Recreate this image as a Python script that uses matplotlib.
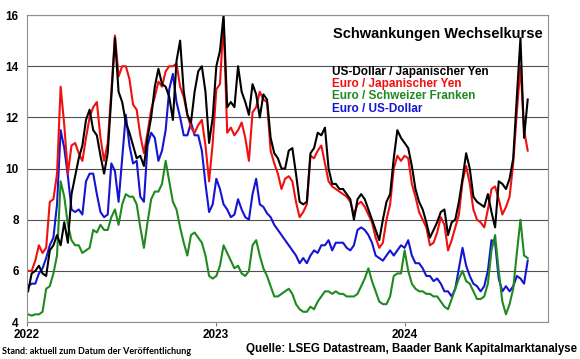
import numpy as np
import pandas as pd
import matplotlib
matplotlib.use("Agg")
import matplotlib.pyplot as plt
import matplotlib.dates as mdates

plt.rcParams['font.family'] = ['Liberation Sans', 'DejaVu Sans']

# weekly readings, Jan 2022 - Aug 2024
dates = pd.date_range("2022-01-03", periods=139, freq="7D")

usd_jpy = [5.2, 5.9, 6.0, 6.2, 5.9, 5.8, 6.8, 7.0, 7.4, 7.0,
           7.9, 7.1, 9.0, 9.7, 10.4, 10.9, 11.9, 12.3, 11.5, 11.3,
           10.5, 9.8, 10.6, 12.8, 15.1, 13.0, 12.6, 11.8, 11.4, 10.9,
           10.4, 10.5, 10.1, 11.2, 12.0, 13.2, 13.9, 13.3, 13.2, 12.8,
           11.9, 14.2, 15.0, 13.0, 12.1, 11.8, 13.0, 13.8, 14.0, 13.0,
           11.0, 12.0, 14.0, 14.6, 16.0, 12.4, 12.6, 12.4, 14.0, 13.0,
           12.6, 12.1, 13.3, 12.9, 12.0, 12.9, 12.7, 11.2, 10.6, 10.4,
           10.0, 10.0, 10.7, 10.8, 9.8, 8.7, 8.6, 8.7, 10.6, 10.8,
           11.4, 11.3, 11.6, 10.0, 9.4, 9.4, 9.2, 9.2, 9.0, 8.8,
           8.0, 8.8, 9.0, 8.8, 8.4, 8.0, 7.6, 7.2, 8.0, 8.7,
           9.0, 10.4, 11.5, 11.2, 11.0, 10.8, 10.1, 9.2, 8.7, 8.4,
           7.9, 7.3, 7.6, 7.9, 8.3, 8.4, 7.4, 7.9, 8.0, 8.7,
           9.6, 10.6, 10.0, 8.9, 8.7, 8.6, 8.5, 9.0, 8.3, 7.7,
           9.5, 9.4, 9.2, 9.6, 10.4, 12.8, 15.1, 11.2, 12.7]

eur_jpy = [6.0, 6.0, 6.4, 7.0, 6.7, 6.9, 8.7, 8.8, 9.8, 13.2,
           11.7, 9.8, 10.9, 11.0, 10.6, 10.3, 11.2, 12.0, 12.4, 12.6,
           11.2, 10.3, 11.0, 13.0, 15.2, 13.6, 14.0, 14.0, 13.5, 12.5,
           12.3, 11.3, 10.6, 11.4, 12.3, 12.8, 13.4, 13.2, 13.8, 14.0,
           14.0, 14.1, 13.2, 12.8, 12.1, 11.6, 11.4, 11.7, 11.9, 10.9,
           9.5, 11.0, 13.1, 13.3, 15.8, 11.4, 11.6, 11.3, 11.5, 11.8,
           11.2, 10.3, 12.2, 12.4, 13.0, 12.7, 12.6, 10.7, 10.2, 9.8,
           9.2, 9.6, 9.7, 9.5, 8.7, 8.1, 8.3, 8.6, 10.5, 10.4,
           10.7, 10.9, 10.2, 9.5, 9.3, 9.2, 9.1, 9.0, 8.9, 8.7,
           8.2, 8.6, 8.7, 8.5, 8.2, 7.9, 7.3, 6.9, 7.1, 8.0,
           8.6, 10.0, 10.5, 10.3, 10.5, 10.4, 9.4, 8.9, 8.3, 8.0,
           7.7, 7.0, 7.1, 7.5, 8.1, 7.8, 6.8, 7.2, 7.7, 8.2,
           9.5, 10.1, 9.4, 8.4, 8.0, 7.9, 7.7, 8.4, 9.2, 9.3,
           8.8, 8.2, 8.5, 8.9, 10.2, 12.2, 14.0, 11.5, 10.7]

eur_chf = [4.3, 4.25, 4.3, 4.3, 4.4, 5.3, 5.4, 5.9, 6.6, 9.5,
           8.9, 7.8, 7.2, 7.0, 7.0, 6.7, 6.8, 6.9, 7.6, 7.5,
           7.8, 7.6, 7.6, 8.1, 8.4, 7.8, 8.6, 9.0, 8.9, 8.9,
           8.6, 7.7, 6.9, 7.9, 8.8, 9.1, 9.1, 9.4, 10.3, 9.5,
           8.7, 8.4, 7.7, 7.1, 6.6, 7.4, 7.5, 7.3, 7.1, 6.6,
           5.8, 5.7, 5.8, 6.2, 7.0, 6.7, 6.4, 6.1, 6.2, 5.9,
           5.8, 6.0, 7.0, 7.2, 6.6, 6.1, 5.8, 5.4, 5.0, 5.0,
           5.1, 5.2, 5.3, 5.1, 4.7, 4.5, 4.4, 4.4, 4.6, 4.5,
           4.8, 5.0, 5.2, 5.2, 5.1, 5.2, 5.1, 5.1, 5.0, 5.0,
           5.0, 5.1, 5.4, 5.7, 6.1, 5.6, 5.2, 4.8, 4.7, 4.7,
           5.0, 5.8, 5.9, 5.9, 6.8, 6.0, 5.5, 5.3, 5.2, 5.2,
           5.1, 5.1, 5.0, 5.0, 4.8, 4.6, 4.5, 4.9, 5.3, 5.7,
           6.0, 5.6, 5.5, 5.2, 4.9, 4.9, 5.0, 5.5, 6.8, 7.4,
           6.0, 4.8, 4.3, 4.7, 5.3, 6.7, 8.0, 6.6, 6.5]

eur_usd = [5.4, 5.5, 5.5, 5.9, 6.1, 6.5, 7.0, 7.3, 8.6, 11.5,
           10.8, 9.7, 8.4, 8.3, 8.4, 8.2, 9.5, 9.8, 9.8, 9.0,
           8.3, 8.1, 8.2, 10.2, 9.9, 8.7, 10.4, 12.1, 10.9, 10.2,
           10.3, 8.9, 8.7, 10.9, 11.4, 11.2, 10.3, 10.7, 11.5, 13.1,
           13.7, 12.6, 12.0, 11.3, 11.3, 11.8, 11.3, 11.3, 10.7, 9.4,
           8.3, 8.6, 9.6, 9.2, 8.6, 8.4, 8.1, 8.2, 8.8, 8.4,
           8.1, 8.0, 9.0, 9.6, 8.6, 8.5, 8.25, 8.1, 7.8, 7.6,
           7.4, 7.2, 7.0, 6.8, 6.6, 6.3, 6.5, 6.3, 6.6, 6.8,
           6.7, 7.0, 7.0, 7.2, 6.8, 7.1, 7.1, 7.1, 6.9, 6.8,
           7.0, 7.6, 7.7, 7.6, 7.4, 7.1, 6.6, 6.5, 6.4, 6.6,
           6.8, 6.6, 6.8, 7.0, 6.9, 7.2, 6.6, 6.3, 6.3, 6.1,
           5.8, 5.8, 5.6, 5.7, 5.5, 5.2, 5.2, 5.0, 5.3, 6.1,
           6.9, 6.2, 5.8, 5.5, 5.4, 5.2, 5.4, 6.0, 7.2, 7.1,
           5.7, 5.2, 5.4, 5.2, 5.4, 5.8, 5.7, 5.5, 6.4]

series_labels = ["US-Dollar / Japanischer Yen", "Euro / Japanischer Yen",
                 "Euro / Schweizer Franken", "Euro / US-Dollar"]
series_colors = ["#000000", "#f01010", "#1f8a1f", "#1414d2"]

fig = plt.figure(figsize=(5.8, 3.59), dpi=100)
ax = fig.add_axes([0.0466, 0.103, 0.898, 0.855])

# draw order: blue, green, red, black on top
ax.plot(dates, eur_usd, color=series_colors[3], lw=1.5)
ax.plot(dates, eur_chf, color=series_colors[2], lw=1.5)
ax.plot(dates, eur_jpy, color=series_colors[1], lw=1.5)
ax.plot(dates, usd_jpy, color=series_colors[0], lw=1.5)

ax.set_ylim(4, 16)
ax.set_yticks(range(4, 17, 2))
ax.set_xlim(pd.Timestamp("2022-01-01"), pd.Timestamp("2024-10-04"))
ax.xaxis.set_major_locator(mdates.YearLocator())
ax.xaxis.set_major_formatter(mdates.DateFormatter("%Y"))

for t in ax.get_yticklabels() + ax.get_xticklabels():
    t.set_fontweight("bold")
ax.tick_params(axis="y", length=0, pad=6, labelsize=8.5)
ax.tick_params(axis="x", length=3, pad=2, labelsize=8.5, color="#808080")

ax.grid(axis="y", color="#505050", lw=0.8)
ax.set_axisbelow(True)
for s in ax.spines.values():
    s.set_color("#909090")
    s.set_linewidth(0.8)

ax.text(0.99, 0.96, "Schwankungen Wechselkurse", transform=ax.transAxes,
        ha="right", va="top", fontsize=10.5, fontweight="bold")

for k in range(4):
    ax.text(0.585, 0.815 - k * 0.04, series_labels[k], transform=ax.transAxes,
            ha="left", va="center", fontsize=8.5, fontweight="bold",
            color=series_colors[k])

fig.text(0.003, 0.02, "Stand: aktuell zum Datum der Veröffentlichung",
         ha="left", va="center", fontsize=6.5, fontweight="bold",
         family=["Lato", "DejaVu Sans"])
fig.text(0.995, 0.028, "Quelle: LSEG Datastream, Baader Bank Kapitalmarktanalyse",
         ha="right", va="center", fontsize=8.3, fontweight="bold")

fig.savefig("out.png", dpi=100, facecolor="white")
